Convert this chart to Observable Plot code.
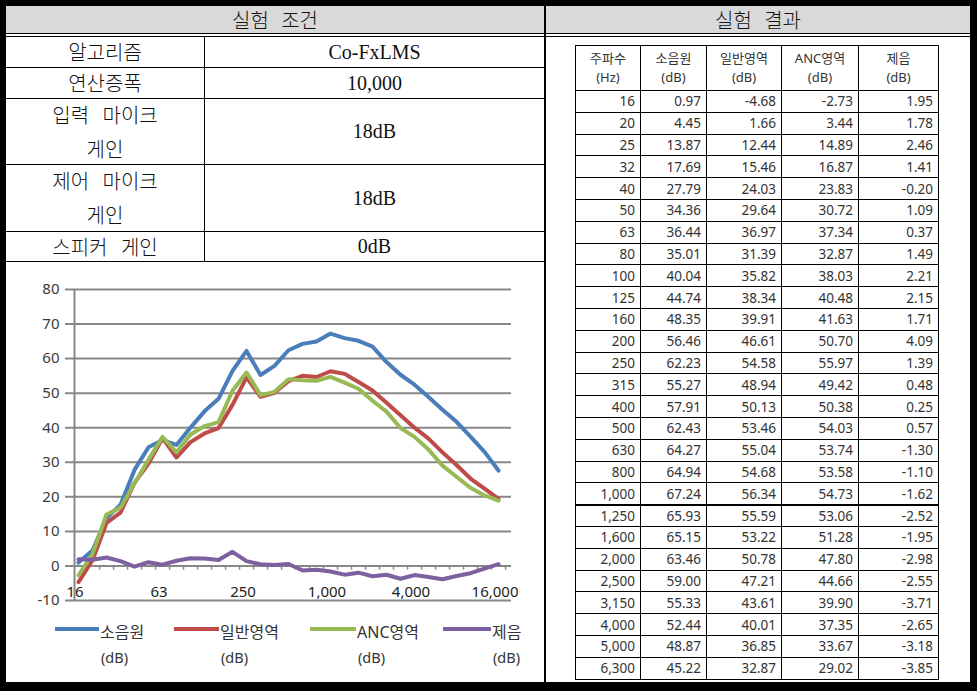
<!DOCTYPE html>
<html><head><meta charset="utf-8">
<script src="https://cdn.jsdelivr.net/npm/d3@7"></script>
<script src="https://cdn.jsdelivr.net/npm/@observablehq/plot@0.6"></script>
<style>
body{margin:0;background:#fff;}
#page{position:relative;width:977px;height:691px;overflow:hidden;background:#fff;}
</style></head>
<body><div id="page"></div>
<script>
// ---- data ----
const condLabels = ["알고리즘","연산증폭","입력 마이크 게인","제어 마이크 게인","스피커 게인"];
const condValues = ["Co-FxLMS","10,000","18dB","18dB","0dB"];
const headerLeft = "실험 조건";
const headerRight = "실험 결과";
const colHeads = ["주파수","소음원","일반영역","ANC영역","제음"];
const colUnits = ["(Hz)","(dB)","(dB)","(dB)","(dB)"];
const seriesNames = ["소음원","일반영역","ANC영역","제음"];
const unitLabel = "(dB)";
const freqs = [16,20,25,32,40,50,63,80,100,125,160,200,250,315,400,500,630,800,1000,1250,1600,2000,2500,3150,4000,5000,6300,8000,10000,12500,16000];
const source = [0.97,4.45,13.87,17.69,27.79,34.36,36.44,35.01,40.04,44.74,48.35,56.46,62.23,55.27,57.91,62.43,64.27,64.94,67.24,65.93,65.15,63.46,59.00,55.33,52.44,48.87,45.22,41.7,37.4,33.0,27.6];
const general = [-4.68,1.66,12.44,15.46,24.03,29.64,36.97,31.39,35.82,38.34,39.91,46.61,54.58,48.94,50.13,53.46,55.04,54.68,56.34,55.59,53.22,50.78,47.21,43.61,40.01,36.85,32.87,29.2,25.3,22.4,19.4];
const anc = [-2.73,3.44,14.89,16.87,23.83,30.72,37.34,32.87,38.03,40.48,41.63,50.70,55.97,49.42,50.38,54.03,53.74,53.58,54.73,53.06,51.28,47.80,44.66,39.90,37.35,33.67,29.02,25.8,22.6,20.4,18.9];
const reduction = [1.95,1.78,2.46,1.41,-0.20,1.09,0.37,1.49,2.21,2.15,1.71,4.09,1.39,0.48,0.25,0.57,-1.30,-1.10,-1.62,-2.52,-1.95,-2.98,-2.55,-3.71,-2.65,-3.18,-3.85,-2.9,-2.1,-0.8,0.5];
const tableRowCount = 27;
const yTicks = [-10,0,10,20,30,40,50,60,70,80];
const xLabelFreqs = [16,63,250,1000,4000,16000];
const colors = ["#4a7ebb","#be4b48","#98b954","#7d60a0"];

// ---- helpers ----
const page = document.getElementById("page");
function box(x,y,w,h,css){const d=document.createElement("div");d.style.cssText=`position:absolute;left:${x}px;top:${y}px;width:${w}px;height:${h}px;`+(css||"");page.appendChild(d);return d;}
function label(x,y,w,h,html,css){const d=box(x,y,w,h,"display:flex;align-items:center;justify-content:center;white-space:nowrap;"+(css||""));d.innerHTML=html;return d;}
const BLACK="background:#000;";

// ---- header ----
box(6,6,964,27,"background:#d9d9d9;");
box(6,33,964,1,BLACK); box(6,36,964,1,BLACK);
box(544,6,2,676,BLACK);
const hdrCss="font-family:'Noto Sans CJK KR',sans-serif;font-size:20px;font-weight:300;word-spacing:8px;color:#111;";
label(6,6,538,27,headerLeft,hdrCss);
label(546,6,424,27,headerRight,hdrCss);

// ---- left conditions table ----
const rowB=[36,67,98,164,231,261];
for(let i=1;i<rowB.length;i++) box(6,rowB[i],538,1,BLACK);
box(204,36,1,225,BLACK);
condLabels.forEach((t,i)=>{
  const words=t.split(" ");
  let html=t;
  if(words.length>2) html=words.slice(0,-1).join(" ")+"<br>"+words[words.length-1];
  const y0=rowB[i]+1,h=rowB[i+1]-rowB[i]-1;
  label(6,y0,198,h,html,"font-family:'Noto Sans CJK KR',sans-serif;font-size:20px;font-weight:300;word-spacing:9px;line-height:34px;text-align:center;flex-direction:column;color:#111;");
  label(205,y0,339,h,condValues[i],"font-family:'Liberation Serif',serif;font-size:20px;color:#111;");
});

// ---- right results table ----
const colB=[575,640,706,781,858,938];
const tTop=45,hBot=90,rh=21.8;
const tBot=hBot+rh*tableRowCount;
box(575,tTop,363,1,BLACK);
colB.forEach(x=>box(x,tTop,1,tBot-tTop+1,BLACK));
box(575,hBot,363,1,BLACK);
for(let k=1;k<=tableRowCount;k++){
  const y=hBot+rh*k;
  const thick = freqs[k-1]===1000;
  box(575,y,363,thick?2:1,BLACK);
}
colHeads.forEach((h,c)=>{
  label(colB[c]+1,tTop+1,colB[c+1]-colB[c]-1,hBot-tTop-1,h+"<br>"+colUnits[c],"flex-direction:column;font-family:'Noto Sans','Noto Sans CJK KR',sans-serif;font-size:13px;line-height:19px;text-align:center;color:#333;");
});
const fmtF=d3.format(",");
const cols=[freqs.map(f=>fmtF(f)),source.map(v=>v.toFixed(2)),general.map(v=>v.toFixed(2)),anc.map(v=>v.toFixed(2)),reduction.map(v=>v.toFixed(2))];
for(let r=0;r<tableRowCount;r++){
  const y=hBot+rh*r+1;
  cols.forEach((arr,c)=>{
    label(colB[c]+1,y,colB[c+1]-colB[c]-6,rh-1,arr[r],"justify-content:flex-end;font-family:'Noto Sans',sans-serif;font-size:13.5px;color:#333;");
  });
}

// ---- chart ----
const W=530,H=345,mL=65,mR=27,mT=19,mB=15;
const xr=[69,491];
const step=(xr[1]-xr[0])/(freqs.length-1);
const grid="#878787";
const seriesData=[source,general,anc,reduction];
const chart=Plot.plot({
  width:W,height:H,marginLeft:mL,marginRight:mR,marginTop:mT,marginBottom:mB,
  style:{background:"transparent",overflow:"visible",fontFamily:"'Noto Sans',sans-serif"},
  x:{type:"point",domain:freqs,range:xr,padding:0,axis:null},
  y:{domain:[-10,80],axis:null},
  marks:[
    Plot.ruleY(yTicks,{y:d=>d,stroke:grid,strokeWidth:2,insetLeft:-8}),
    Plot.ruleX([freqs[0]],{x:d=>d,dx:-(xr[0]-mL),y1:-10,y2:80,stroke:grid,strokeWidth:2}),
    Plot.ruleX(freqs,{x:d=>d,dx:step/2,y1:0,y2:-1.2,stroke:grid,strokeWidth:1.5}),
    Plot.text(yTicks,{y:d=>d,frameAnchor:"left",dx:-14,textAnchor:"end",text:d=>String(d),fill:"#3a3a3a",fontSize:15}),
    Plot.text(xLabelFreqs,{x:d=>d,y:-10,dy:-8,dx:-3.5,text:d=>fmtF(d),fill:"#222",fontSize:15}),
    ...seriesData.map((arr,s)=>Plot.line(freqs,{x:d=>d,y:(d,i)=>arr[i],stroke:colors[s],strokeWidth:4,strokeLinejoin:"round"}))
  ]
});
const holder=box(8,270,W,H,"");
holder.appendChild(chart);

// ---- legend ----
const legX=[{line:55,text:100},{line:174,text:220},{line:310,text:357},{line:443,text:492}];
seriesNames.forEach((n,s)=>{
  box(legX[s].line,627,legX[s].text-legX[s].line-1,4,"background:"+colors[s]+";");
  label(legX[s].text,619,120,24,n,"justify-content:flex-start;font-family:'Noto Sans','Noto Sans CJK KR',sans-serif;font-size:16px;color:#333;");
  label(legX[s].text+1,645,60,24,unitLabel,"justify-content:flex-start;font-family:'Noto Sans',sans-serif;font-size:14.5px;color:#333;");
});

// ---- outer frame ----
box(0,0,977,691,"box-sizing:border-box;border-style:solid;border-color:#000;border-width:6px 7px 9px 6px;pointer-events:none;");
</script>
</body></html>
